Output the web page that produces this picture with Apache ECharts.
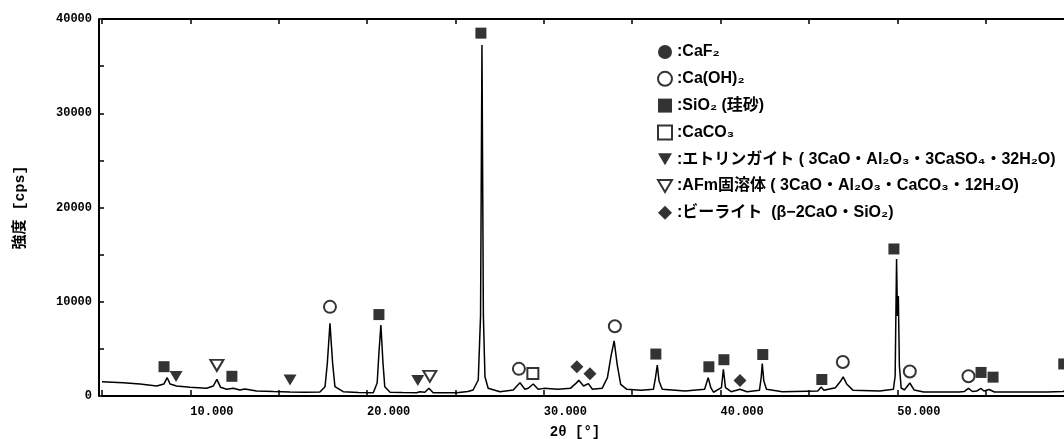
<!DOCTYPE html>
<html><head><meta charset="utf-8">
<script src="https://cdn.jsdelivr.net/npm/echarts@6/dist/echarts.min.js"></script>
<style>html,body{margin:0;padding:0;background:#fff}#c{width:1064px;height:439px}</style>
</head><body><div id="c"></div><script>
// ---- data (2θ in degrees, intensity in cps) ----
const scanAngle = [5.0,6.2,7.15,8.1,8.5,8.69,8.85,9.22,9.98,10.92,11.3,11.5,11.71,12.05,12.43,12.8,13.09,13.75,14.7,15.64,16.5,17.33,17.62,17.75,17.9,18.05,18.18,18.65,19.5,20.35,20.57,20.67,20.78,20.9,21.0,21.3,22.0,22.8,22.99,23.27,23.5,23.74,25.07,25.7,26.0,26.29,26.42,26.5,26.58,26.67,26.85,27.52,28.27,28.65,28.93,29.12,29.4,29.68,
  30.0,30.8,31.5,31.8,31.98,32.25,32.52,32.75,33.3,33.6,33.8,33.98,34.15,34.35,34.7,35.5,36.2,36.32,36.42,36.52,36.7,38.0,39.1,39.3,39.45,39.6,40.05,40.16,40.28,40.6,41.1,41.5,42.2,42.3,42.36,42.45,42.6,43.5,45.5,45.7,45.85,46.5,46.8,46.94,47.15,47.5,49.0,49.78,49.88,49.96,50.01,50.06,50.12,50.22,50.4,50.71,50.95,51.5,53.5,53.8,54.03,54.25,54.5,54.74,54.9,55.2,55.5,57.0,58.5,59.4,59.8,59.96,60.0];
const scanCounts = [1520,1410,1270,1060,1270,1940,1270,1060,920,820,1060,1770,920,710,820,640,740,530,470,420,400,420,990,3470,7710,3470,990,460,380,350,1380,4560,7530,3500,990,390,360,350,460,390,820,350,350,480,640,1700,8500,37240,8500,2050,820,460,640,1410,710,820,1270,710,
  810,710,810,1310,1660,1060,1310,710,810,1950,4240,5840,3360,1240,710,600,710,1950,3290,1590,710,530,710,1950,880,400,880,2830,880,460,710,460,600,1950,3430,1590,710,460,530,960,600,880,1590,2020,1240,600,530,710,2120,14540,8490,10610,3180,850,640,1380,640,420,420,480,800,480,530,800,530,690,420,420,420,480,1060,2650,2120];

// marker positions [2θ, cps] for each phase
const caf2Marks = [];
const caoh2Marks = [[17.9,9460],[28.59,2880],[34.02,7400],[46.92,3600],[50.71,2600],[54.03,2100]];
const sio2Marks = [[8.51,3110],[12.35,2090],[20.67,8640],[26.44,38500],[36.34,4450],[39.34,3100],[40.19,3850],[42.39,4400],[45.73,1750],[49.81,15600],[54.74,2500],[55.42,2000],[59.42,3400]];
const caco3Marks = [[29.38,2400]];
const ettringiteMarks = [[9.19,2060],[15.64,1700],[22.87,1650]];
const afmMarks = [[11.5,3250],[23.55,2090]];
const beliteMarks = [[31.87,3100],[32.61,2350],[41.1,1650]];

const phaseNames = ['CaF₂','Ca(OH)₂','SiO₂ (珪砂)','CaCO₃','エトリンガイト ( 3CaO・Al₂O₃・3CaSO₄・32H₂O)','AFm固溶体 ( 3CaO・Al₂O₃・CaCO₃・12H₂O)','ビーライト  (β−2CaO・SiO₂)'];
const xTicks = {min:5, max:60, step:5};
const yTicks = {min:0, max:40000, step:5000};
const xName = '2θ [°]';
const yName = '強度 [cps]';

// ---- chart ----
const FONT_NUM = '"Liberation Mono","DejaVu Sans Mono",monospace';
const FONT_TXT = '"Liberation Sans","Noto Sans CJK JP",sans-serif';
const DOWN_TRI = 'path://M0,0L20,0L10,17Z';
const curve = scanAngle.map((a,i)=>[a, scanCounts[i]]);
const K = '#000';
function marks(name, data, symbol, size, empty){
  return {type:'scatter', name, data, symbol, symbolSize:size,
    itemStyle: empty ? {color:'#fff', borderColor:K, borderWidth:2} : {color:K, borderWidth:0},
    z:3, silent:true};
}
const legendData = phaseNames.map((n,i)=>{
  const empty = (i===1 || i===3 || i===5);
  const o = {name:n, itemStyle: empty ? {color:'#fff', borderColor:K, borderWidth:2} : {color:K, borderWidth:0}};
  if (i===4 || i===5) o.icon = DOWN_TRI;
  return o;
});
const chart = echarts.init(document.getElementById('c'), null, {renderer:'canvas'});
chart.setOption({
  animation:false,
  backgroundColor:'#fff',
  grid:{left:102, top:19, width:972, height:377, outerBoundsMode:'none', containLabel:false},
  xAxis:[{
    type:'value', min:xTicks.min, max:xTicks.max, interval:xTicks.step, position:'bottom',
    axisLine:{onZero:false, lineStyle:{color:K, width:2}},
    axisTick:{inside:true, length:6, lineStyle:{color:K, width:1.5}},
    axisLabel:{formatter:v=> (v%10===0 ? v.toFixed(3) : ''), align:'left', margin:10,
      color:K, fontFamily:FONT_NUM, fontWeight:'bold', fontSize:12},
    splitLine:{show:false},
    name:xName, nameLocation:'middle', nameGap:29,
    nameTextStyle:{color:K, fontFamily:FONT_NUM, fontWeight:'bold', fontSize:14, padding:[0,26,0,0]}
  },{
    type:'value', min:xTicks.min, max:xTicks.max, interval:xTicks.step, position:'top',
    axisLine:{onZero:false, lineStyle:{color:K, width:2}},
    axisTick:{inside:true, length:5, lineStyle:{color:K, width:1.5}},
    axisLabel:{show:false}, splitLine:{show:false}
  }],
  yAxis:{
    type:'value', min:yTicks.min, max:yTicks.max, interval:yTicks.step, offset:3,
    axisLine:{show:true, onZero:false, lineStyle:{color:K, width:2}},
    axisTick:{show:true, inside:true, length:5, lineStyle:{color:K, width:1.5}},
    axisLabel:{formatter:v=> (v%10000===0 ? String(v) : ''), margin:7,
      color:K, fontFamily:FONT_NUM, fontWeight:'bold', fontSize:12},
    splitLine:{show:false},
    name:yName, nameLocation:'middle', nameRotate:90, nameGap:71,
    nameTextStyle:{color:K, fontFamily:'"Liberation Mono","Noto Sans CJK JP",monospace', fontWeight:'bold', fontSize:15}
  },
  legend:{
    orient:'vertical', left:652, top:37, itemWidth:14, itemHeight:14, itemGap:6.8,
    selectedMode:false,
    data:legendData,
    formatter:n=>':'+n,
    textStyle:{fontFamily:FONT_TXT, fontWeight:'bold', fontSize:16, color:K, lineHeight:20}
  },
  series:[
    {type:'line', name:'scan', data:curve, symbol:'none', lineStyle:{color:K, width:1.5}, z:2, silent:true},
    marks(phaseNames[0], caf2Marks, 'circle', 13),
    marks(phaseNames[1], caoh2Marks, 'circle', 12, true),
    marks(phaseNames[2], sio2Marks, 'rect', 11),
    marks(phaseNames[3], caco3Marks, 'rect', 11, true),
    marks(phaseNames[4], ettringiteMarks, DOWN_TRI, [13,11]),
    marks(phaseNames[5], afmMarks, DOWN_TRI, [13,11], true),
    marks(phaseNames[6], beliteMarks, 'diamond', 13)
  ]
});
</script></body></html>
